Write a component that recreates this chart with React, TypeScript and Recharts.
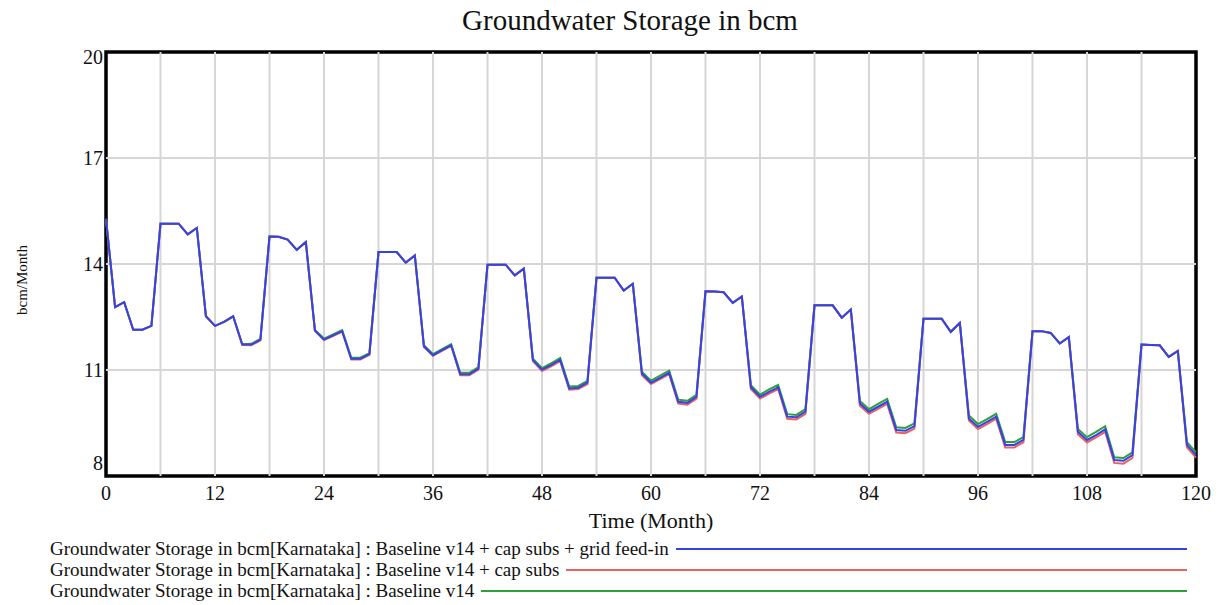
import React from "react";
import { LineChart, Line, XAxis, YAxis, ReferenceLine, ReferenceArea } from "recharts";

const months = Array.from({ length: 121 }, (_, i) => i);

const gridFeedIn = [
  15.28, 12.78, 12.92, 12.14, 12.14, 12.25, 15.14, 15.14, 15.14, 14.84, 15.02, 12.52,
  12.25, 12.36, 12.52, 11.72, 11.72, 11.86, 14.78, 14.77, 14.69, 14.40, 14.62, 12.12,
  11.86, 11.98, 12.10, 11.32, 11.32, 11.45, 14.34, 14.34, 14.34, 14.04, 14.24, 11.67,
  11.42, 11.56, 11.70, 10.88, 10.88, 11.04, 13.98, 13.98, 13.98, 13.68, 13.87, 11.28,
  11.01, 11.14, 11.29, 10.48, 10.50, 10.64, 13.61, 13.61, 13.61, 13.25, 13.44, 10.90,
  10.64, 10.78, 10.92, 10.10, 10.07, 10.24, 13.23, 13.22, 13.20, 12.90, 13.08, 10.51,
  10.24, 10.38, 10.51, 9.68, 9.66, 9.82, 12.83, 12.83, 12.83, 12.48, 12.71, 10.05,
  9.82, 9.96, 10.10, 9.30, 9.28, 9.41, 12.45, 12.45, 12.45, 12.08, 12.33, 9.63,
  9.39, 9.53, 9.68, 8.88, 8.88, 9.02, 12.10, 12.10, 12.05, 11.75, 11.93, 9.25,
  9.02, 9.16, 9.32, 8.45, 8.43, 8.59, 11.72, 11.71, 11.70, 11.37, 11.54, 8.88,
  8.59,
];

const capSubs = [
  15.28, 12.78, 12.92, 12.14, 12.14, 12.25, 15.14, 15.14, 15.14, 14.84, 15.02, 12.52,
  12.25, 12.36, 12.52, 11.71, 11.70, 11.84, 14.78, 14.77, 14.69, 14.40, 14.62, 12.11,
  11.85, 11.96, 12.09, 11.30, 11.30, 11.43, 14.34, 14.34, 14.34, 14.04, 14.24, 11.65,
  11.40, 11.54, 11.68, 10.85, 10.85, 11.01, 13.98, 13.98, 13.98, 13.68, 13.87, 11.25,
  10.97, 11.10, 11.25, 10.44, 10.46, 10.60, 13.61, 13.61, 13.61, 13.25, 13.44, 10.86,
  10.60, 10.74, 10.88, 10.05, 10.02, 10.19, 13.23, 13.22, 13.20, 12.90, 13.08, 10.46,
  10.19, 10.33, 10.46, 9.62, 9.60, 9.76, 12.83, 12.83, 12.83, 12.48, 12.71, 9.99,
  9.76, 9.90, 10.04, 9.23, 9.21, 9.34, 12.45, 12.45, 12.45, 12.08, 12.33, 9.57,
  9.33, 9.47, 9.62, 8.81, 8.81, 8.95, 12.10, 12.10, 12.05, 11.75, 11.93, 9.18,
  8.95, 9.09, 9.25, 8.37, 8.35, 8.51, 11.72, 11.71, 11.70, 11.37, 11.54, 8.81,
  8.52,
];

const baseline = [
  15.28, 12.78, 12.92, 12.14, 12.14, 12.25, 15.14, 15.14, 15.14, 14.84, 15.02, 12.52,
  12.25, 12.36, 12.52, 11.73, 11.74, 11.88, 14.78, 14.77, 14.69, 14.40, 14.62, 12.13,
  11.89, 12.01, 12.13, 11.35, 11.35, 11.48, 14.34, 14.34, 14.34, 14.04, 14.24, 11.70,
  11.45, 11.59, 11.73, 10.92, 10.92, 11.08, 13.98, 13.98, 13.98, 13.68, 13.87, 11.32,
  11.05, 11.19, 11.34, 10.53, 10.55, 10.69, 13.61, 13.61, 13.61, 13.25, 13.44, 10.95,
  10.70, 10.84, 10.98, 10.16, 10.13, 10.30, 13.23, 13.22, 13.20, 12.90, 13.08, 10.57,
  10.30, 10.45, 10.58, 9.75, 9.73, 9.89, 12.83, 12.83, 12.83, 12.48, 12.71, 10.12,
  9.89, 10.04, 10.18, 9.38, 9.36, 9.49, 12.45, 12.45, 12.45, 12.08, 12.33, 9.71,
  9.47, 9.61, 9.76, 8.96, 8.96, 9.10, 12.10, 12.10, 12.05, 11.75, 11.93, 9.33,
  9.10, 9.25, 9.41, 8.53, 8.51, 8.67, 11.72, 11.71, 11.70, 11.37, 11.54, 8.96,
  8.67,
];

const xTicks = [0, 12, 24, 36, 48, 60, 72, 84, 96, 108, 120];
const yTicks = [8, 11, 14, 17, 20];
const xGrid = [6, 12, 18, 24, 30, 36, 42, 48, 54, 60, 66, 72, 78, 84, 90, 96, 102, 108, 114];
const yGrid = [11, 14, 17];

const titleText = "Groundwater Storage in bcm";
const xAxisTitle = "Time (Month)";
const yAxisTitle = "bcm/Month";
const seriesNames = [
  "Groundwater Storage in bcm[Karnataka] : Baseline v14 + cap subs + grid feed-in",
  "Groundwater Storage in bcm[Karnataka] : Baseline v14 + cap subs",
  "Groundwater Storage in bcm[Karnataka] : Baseline v14",
];

const BLUE = "#3344e6";
const RED = "#e8625e";
const GREEN = "#2f9e3c";
const FONT = "'Liberation Serif', 'Times New Roman', serif";

const data = months.map((m, i) => ({
  month: m,
  grid: gridFeedIn[i],
  cap: capSubs[i],
  base: baseline[i],
}));

const YTick = (props: any) => {
  const { x, y, payload } = props;
  let dy = 0;
  if (payload.value === 8) dy = -13;
  if (payload.value === 20) dy = 5;
  return (
    <text x={x} y={y + dy} dy="0.35em" textAnchor="end" fontFamily={FONT} fontSize={20} fill="#111">
      {payload.value}
    </text>
  );
};

const XTick = (props: any) => {
  const { x, y, payload } = props;
  return (
    <text x={x} y={y} dy="0.75em" textAnchor="middle" fontFamily={FONT} fontSize={20} fill="#111">
      {payload.value}
    </text>
  );
};

export default function App() {
  const legendColors = [BLUE, RED, GREEN];
  return (
    <div style={{ position: "absolute", left: 0, top: 0, width: 1219, height: 605, background: "#fff", fontFamily: FONT }}>
      <div style={{ position: "absolute", left: 0, width: 1260, top: 2, textAlign: "center", fontSize: 29, color: "#111", lineHeight: "36px" }}>
        {titleText}
      </div>
      <LineChart width={1219} height={605} data={data} margin={{ top: 52, right: 23, bottom: 89, left: 46 }}>
        {xGrid.map((v) => (
          <ReferenceLine key={"vx" + v} x={v} stroke="#d6d6d6" strokeWidth={2} />
        ))}
        {yGrid.map((v) => (
          <ReferenceLine key={"hy" + v} y={v} stroke="#d6d6d6" strokeWidth={2} />
        ))}
        <XAxis
          dataKey="month"
          type="number"
          domain={[0, 120]}
          ticks={xTicks}
          axisLine={false}
          tickLine={false}
          tickSize={0}
          tickMargin={9}
          height={40}
          tick={<XTick />}
          interval={0}
        />
        <YAxis
          type="number"
          domain={[8, 20]}
          ticks={yTicks}
          axisLine={false}
          tickLine={false}
          tickSize={0}
          tickMargin={3}
          width={60}
          tick={<YTick />}
          interval={0}
        />
        <Line type="linear" dataKey="base" stroke={GREEN} strokeWidth={2} dot={false} isAnimationActive={false} />
        <Line type="linear" dataKey="cap" stroke={RED} strokeWidth={2} dot={false} isAnimationActive={false} />
        <Line type="linear" dataKey="grid" stroke={BLUE} strokeWidth={2} dot={false} isAnimationActive={false} />
        <ReferenceArea x1={0} x2={120} y1={8} y2={20} fill="none" stroke="#000" strokeWidth={3.5} fillOpacity={0} />
      </LineChart>
      <div style={{ position: "absolute", left: 0, width: 1302, top: 507, textAlign: "center", fontSize: 22, color: "#111", lineHeight: "28px" }}>
        {xAxisTitle}
      </div>
      <div
        style={{
          position: "absolute",
          left: 22,
          top: 280,
          transform: "translate(-50%, -50%) rotate(-90deg)",
          fontSize: 15,
          color: "#111",
          whiteSpace: "nowrap",
        }}
      >
        {yAxisTitle}
      </div>
      <div style={{ position: "absolute", left: 50, top: 538, width: 1137 }}>
        {seriesNames.map((name, i) => (
          <div key={name} style={{ display: "flex", alignItems: "center", height: 21, fontSize: 19, color: "#111" }}>
            <span style={{ whiteSpace: "nowrap" }}>{name}</span>
            <div style={{ flex: 1, height: 2, background: legendColors[i], marginLeft: 7 }} />
          </div>
        ))}
      </div>
    </div>
  );
}
